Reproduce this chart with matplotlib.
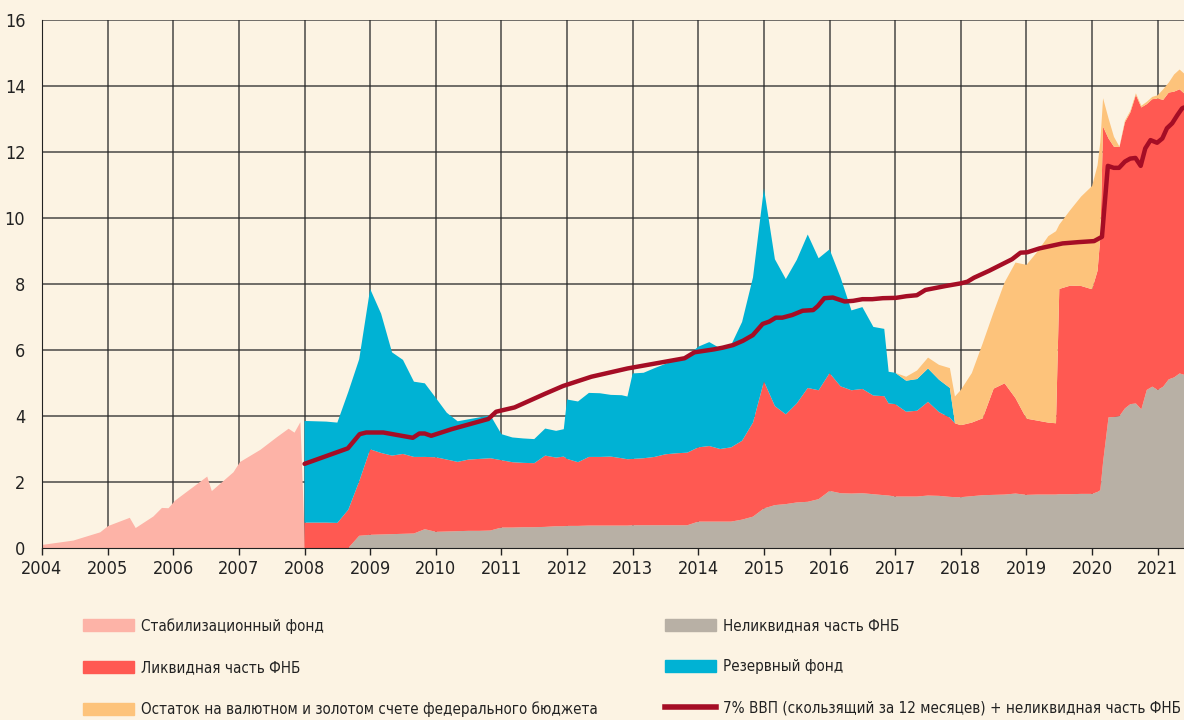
import numpy as np
import matplotlib.pyplot as plt
from matplotlib.patches import Patch
from matplotlib.lines import Line2D

# Стабилизационный фонд, 2004-2008
stab_t = [2004.0, 2004.47, 2004.88, 2005.0, 2005.33, 2005.42, 2005.69, 2005.82, 2005.92,
          2006.02, 2006.51, 2006.58, 2006.91, 2007.01, 2007.32, 2007.57, 2007.75, 2007.84,
          2007.93, 2008.0]
stab_v = [0.11, 0.24, 0.49, 0.68, 0.93, 0.62, 0.97, 1.23, 1.22,
          1.45, 2.18, 1.74, 2.31, 2.62, 2.99, 3.37, 3.63, 3.51,
          3.83, 0.0]

# 2008-2021: общая шкала дат
dates = [2008.0, 2008.167, 2008.333, 2008.5, 2008.667, 2008.833,
         2009.0, 2009.167, 2009.333, 2009.5, 2009.667, 2009.833,
         2010.0, 2010.167, 2010.333, 2010.5, 2010.667, 2010.833,
         2011.0, 2011.167, 2011.333, 2011.5, 2011.667, 2011.833, 2011.95,
         2012.0, 2012.167, 2012.333, 2012.5, 2012.667, 2012.833, 2012.92,
         2013.0, 2013.167, 2013.333, 2013.5, 2013.667, 2013.833,
         2014.0, 2014.167, 2014.333, 2014.5, 2014.667, 2014.833,
         2015.0, 2015.167, 2015.333, 2015.5, 2015.667, 2015.833,
         2016.0, 2016.167, 2016.333, 2016.5, 2016.667, 2016.833, 2016.9,
         2017.0, 2017.167, 2017.333, 2017.5, 2017.667, 2017.833, 2017.91,
         2018.0, 2018.167, 2018.333, 2018.5, 2018.667, 2018.833,
         2019.0, 2019.167, 2019.333, 2019.45, 2019.5, 2019.667, 2019.833,
         2020.0, 2020.083, 2020.125, 2020.167, 2020.25, 2020.333, 2020.417,
         2020.5, 2020.583, 2020.667, 2020.75, 2020.833, 2020.917,
         2021.0, 2021.083, 2021.167, 2021.25, 2021.333, 2021.4]

nwf_illiquid = [0, 0, 0, 0, 0, 0.37,
                0.40, 0.41, 0.42, 0.43, 0.44, 0.57,
                0.49, 0.50, 0.51, 0.52, 0.52, 0.53,
                0.62, 0.62, 0.63, 0.63, 0.64, 0.66, 0.66,
                0.67, 0.67, 0.68, 0.68, 0.68, 0.68, 0.68,
                0.69, 0.69, 0.69, 0.69, 0.69, 0.69,
                0.80, 0.80, 0.80, 0.80, 0.86, 0.95,
                1.20, 1.30, 1.33, 1.38, 1.40, 1.48,
                1.73, 1.66, 1.65, 1.66, 1.63, 1.60, 1.59,
                1.56, 1.56, 1.56, 1.59, 1.58, 1.55, 1.54,
                1.54, 1.57, 1.60, 1.61, 1.62, 1.65,
                1.61, 1.62, 1.62, 1.62, 1.63, 1.63, 1.64,
                1.64, 1.70, 1.75, 2.60, 3.96, 3.97, 4.00,
                4.23, 4.36, 4.38, 4.20, 4.79, 4.89,
                4.79, 4.89, 5.11, 5.17, 5.29, 5.25]

nwf_liquid = [0.77, 0.77, 0.77, 0.76, 1.16, 1.65,
              2.59, 2.47, 2.38, 2.42, 2.32, 2.19,
              2.26, 2.18, 2.10, 2.16, 2.18, 2.19,
              2.04, 1.98, 1.95, 1.94, 2.16, 2.08, 2.11,
              2.03, 1.93, 2.08, 2.08, 2.09, 2.04, 2.01,
              2.01, 2.03, 2.07, 2.15, 2.18, 2.20,
              2.25, 2.29, 2.20, 2.25, 2.39, 2.85,
              3.85, 3.00, 2.72, 3.00, 3.45, 3.30,
              3.57, 3.24, 3.13, 3.16, 2.99, 3.00, 2.79,
              2.80, 2.57, 2.60, 2.84, 2.54, 2.40, 2.24,
              2.18, 2.23, 2.33, 3.22, 3.37, 2.89,
              2.31, 2.24, 2.18, 2.16, 6.22, 6.32, 6.30,
              6.20, 6.70, 7.65, 10.17, 8.45, 8.19, 8.15,
              8.67, 8.84, 9.35, 9.15, 8.66, 8.71,
              8.83, 8.69, 8.69, 8.66, 8.61, 8.53]

reserve_fund = [3.08, 3.07, 3.06, 3.04, 3.57, 3.70,
                4.86, 4.22, 3.13, 2.85, 2.28, 2.23,
                1.80, 1.42, 1.23, 1.22, 1.26, 1.30,
                0.79, 0.75, 0.74, 0.73, 0.82, 0.81, 0.83,
                1.80, 1.84, 1.94, 1.93, 1.87, 1.91, 1.90,
                2.59, 2.59, 2.69, 2.74, 2.83, 2.93,
                3.05, 3.15, 3.05, 3.10, 3.60, 4.40,
                5.85, 4.45, 4.10, 4.35, 4.65, 4.00,
                3.75, 3.30, 2.42, 2.48, 2.08, 2.04, 0.96,
                0.95, 0.94, 0.96, 1.01, 0.98, 0.90, 0,
                0, 0, 0, 0, 0, 0,
                0, 0, 0, 0, 0, 0, 0,
                0, 0, 0, 0, 0, 0, 0,
                0, 0, 0, 0, 0, 0,
                0, 0, 0, 0, 0, 0]

budget_fx = [0, 0, 0, 0, 0, 0,
             0, 0, 0, 0, 0, 0,
             0, 0, 0, 0, 0, 0,
             0, 0, 0, 0, 0, 0, 0,
             0, 0, 0, 0, 0, 0, 0,
             0, 0, 0, 0, 0, 0,
             0, 0, 0, 0, 0, 0,
             0, 0, 0, 0, 0, 0,
             0, 0, 0, 0, 0, 0, 0,
             0, 0.12, 0.26, 0.33, 0.45, 0.60, 0.81,
             1.07, 1.50, 2.27, 2.32, 3.06, 4.11,
             4.66, 5.12, 5.65, 5.82, 1.95, 2.29, 2.71,
             3.13, 3.20, 2.90, 0.86, 0.61, 0.30, 0.01,
             0.05, 0.05, 0.05, 0.05, 0.07, 0.07,
             0.10, 0.32, 0.30, 0.52, 0.60, 0.60]

# 7% ВВП (скользящий за 12 месяцев) + неликвидная часть ФНБ
line_t = [2008.0, 2008.66, 2008.84, 2008.94, 2009.2, 2009.65, 2009.75, 2009.83, 2009.93,
          2010.24, 2010.8, 2010.92, 2011.2, 2011.66, 2011.94, 2012.37, 2012.92, 2013.79,
          2013.94, 2014.24, 2014.37, 2014.53, 2014.68, 2014.83, 2014.98, 2015.08, 2015.18,
          2015.28, 2015.43, 2015.59, 2015.75, 2015.82, 2015.92, 2016.05, 2016.23, 2016.36,
          2016.5, 2016.65, 2016.81, 2017.01, 2017.17, 2017.33, 2017.46, 2017.77, 2018.0,
          2018.1, 2018.2, 2018.43, 2018.66, 2018.78, 2018.91, 2019.01, 2019.2, 2019.55,
          2019.8, 2020.03, 2020.15, 2020.24, 2020.33, 2020.41, 2020.5, 2020.58, 2020.66,
          2020.74, 2020.81, 2020.89, 2020.99, 2021.07, 2021.14, 2021.22, 2021.3, 2021.37,
          2021.4]
line_v = [2.55, 3.02, 3.45, 3.50, 3.50, 3.34, 3.47, 3.47, 3.40,
          3.60, 3.91, 4.13, 4.26, 4.67, 4.91, 5.19, 5.44, 5.75,
          5.93, 6.02, 6.07, 6.15, 6.28, 6.45, 6.79, 6.86, 6.98,
          6.98, 7.06, 7.19, 7.21, 7.33, 7.57, 7.59, 7.47, 7.49,
          7.54, 7.54, 7.57, 7.58, 7.63, 7.66, 7.82, 7.94, 8.02,
          8.07, 8.19, 8.40, 8.63, 8.75, 8.95, 8.96, 9.08, 9.23,
          9.27, 9.30, 9.43, 11.58, 11.52, 11.52, 11.71, 11.80, 11.82,
          11.58, 12.11, 12.36, 12.28, 12.41, 12.72, 12.87, 13.12, 13.32,
          13.35]

years = list(range(2004, 2022))
labels = ["Стабилизационный фонд", "Неликвидная часть ФНБ", "Ликвидная часть ФНБ",
          "Резервный фонд", "Остаток на валютном и золотом счете федерального бюджета",
          "7% ВВП (скользящий за 12 месяцев) + неликвидная часть ФНБ"]

bg = "#FCF3E3"
c_stab = "#FDB3A7"
c_grey = "#B8B0A5"
c_red = "#FF5952"
c_cyan = "#00B2D4"
c_orange = "#FDC37B"
c_line = "#A50D25"

plt.rcParams["font.family"] = ["DejaVu Sans"]
plt.rcParams["font.stretch"] = "condensed"

fig = plt.figure(figsize=(11.84, 7.2), dpi=100, facecolor=bg)
ax = fig.add_axes([42 / 1184, 172 / 720, 1142 / 1184, 528 / 720])
ax.set_facecolor(bg)

ax.fill_between(stab_t, 0, stab_v, color=c_stab, lw=0)
ax.stackplot(dates, nwf_illiquid, nwf_liquid, reserve_fund, budget_fx,
             colors=[c_grey, c_red, c_cyan, c_orange], lw=0)
ax.plot(line_t, line_v, color=c_line, lw=3.2, solid_capstyle="round",
        solid_joinstyle="round")

ax.set_xlim(2004, 2021.4)
ax.set_ylim(0, 16)
ax.set_xticks(years)
ax.set_yticks(range(0, 17, 2))
ax.grid(True, color="#2a2a2a", lw=1.1, alpha=0.85)
ax.set_axisbelow(True)
for s in ["top", "right"]:
    ax.spines[s].set_visible(False)
ax.spines["left"].set_color("#222222")
ax.spines["bottom"].set_color("#222222")
ax.tick_params(axis="x", length=5, width=1, pad=4, labelsize=13, colors="#222222")
ax.tick_params(axis="y", length=0, pad=12, labelsize=13, colors="#222222")

h_left = [Patch(color=c_stab), Patch(color=c_red), Patch(color=c_orange)]
l_left = [labels[0], labels[2], labels[4]]
h_right = [Patch(color=c_grey), Patch(color=c_cyan), Line2D([], [], color=c_line, lw=4)]
l_right = [labels[1], labels[3], labels[5]]

for h, l, x in [(h_left, l_left, 83 / 1184), (h_right, l_right, 665 / 1184)]:
    leg = fig.legend(h, l, loc="upper left", bbox_to_anchor=(x, 1 - 618 / 720),
                     frameon=False, fontsize=10.9, handlelength=3.4, handleheight=0.85,
                     handletextpad=0.45, labelspacing=1.74, borderpad=0, borderaxespad=0)
    for t in leg.get_texts():
        t.set_color("#222222")

fig.savefig("out.png", dpi=100, facecolor=bg)
